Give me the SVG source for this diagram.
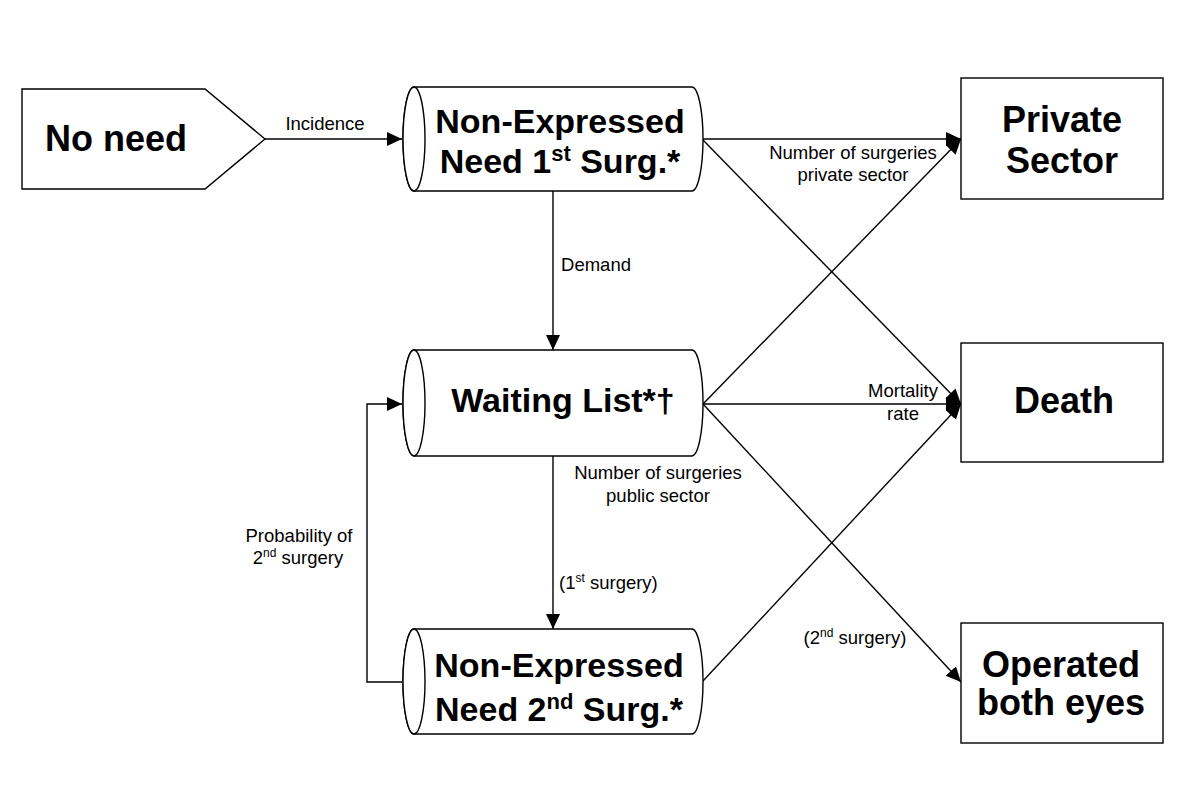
<svg xmlns="http://www.w3.org/2000/svg" width="1200" height="791" viewBox="0 0 1200 791">
<style>
.shape{fill:#fff;stroke:#000;stroke-width:1.4}
.big{font-family:"Liberation Sans",Arial,sans-serif;font-weight:bold;font-size:34px;fill:#000;text-anchor:middle}
.box{font-size:36px}
.lbl{font-family:"Liberation Sans",Arial,sans-serif;font-size:18.5px;fill:#000;text-anchor:middle}
.ln{fill:none;stroke:#000;stroke-width:1.4}
</style>
<defs>
<marker id="arr" markerUnits="userSpaceOnUse" markerWidth="16" markerHeight="16" refX="15" refY="7" orient="auto">
<path d="M0,0 L15,7 L0,14 Z" fill="#000"/>
</marker>
</defs>
<rect width="1200" height="791" fill="#fff"/>

<g id="connectors">
<line class="ln" x1="265" y1="139" x2="402" y2="139" marker-end="url(#arr)"/>
<line class="ln" x1="553" y1="191" x2="553" y2="350" marker-end="url(#arr)"/>
<line class="ln" x1="553" y1="456" x2="553" y2="629" marker-end="url(#arr)"/>
<polyline class="ln" points="402,682 367,682 367,404 402,404" marker-end="url(#arr)"/>
<line class="ln" x1="702" y1="139" x2="961" y2="139" marker-end="url(#arr)"/>
<line class="ln" x1="702" y1="139" x2="961" y2="404" marker-end="url(#arr)"/>
<line class="ln" x1="703" y1="404" x2="961" y2="139" marker-end="url(#arr)"/>
<line class="ln" x1="703" y1="404" x2="961" y2="404" marker-end="url(#arr)"/>
<line class="ln" x1="703" y1="404" x2="961" y2="682" marker-end="url(#arr)"/>
<line class="ln" x1="703" y1="681" x2="961" y2="404" marker-end="url(#arr)"/>
<text class="lbl" x="325" y="130">Incidence</text>
<text class="lbl" x="596" y="271">Demand</text>
<text class="lbl" x="853" y="159">Number of surgeries</text>
<text class="lbl" x="853" y="181">private sector</text>
<text class="lbl" x="903" y="397">Mortality</text>
<text class="lbl" x="903" y="420">rate</text>
<text class="lbl" x="658" y="479">Number of surgeries</text>
<text class="lbl" x="658" y="502">public sector</text>
<text class="lbl" x="559" y="589" style="text-anchor:start">(1<tspan font-size="12" dy="-7">st</tspan><tspan dy="7"> surgery)</tspan></text>
<text class="lbl" x="855" y="644">(2<tspan font-size="12" dy="-7">nd</tspan><tspan dy="7"> surgery)</tspan></text>
<text class="lbl" x="299" y="542">Probability of</text>
<text class="lbl" x="298" y="564">2<tspan font-size="12" dy="-7">nd</tspan><tspan dy="7"> surgery</tspan></text>
</g>

<g id="no-need">
<path class="shape" d="M22,89 L205,89 L265,139 L205,189 L22,189 Z"/>
<text class="big box" x="116" y="151">No need</text>
</g>

<g id="non-expressed-1">
<path class="shape" d="M414,87 L692,87 A11,52 0 0 1 692,191 L414,191 A11,52 0 0 1 414,87 Z"/>
<ellipse class="shape" cx="414" cy="139" rx="11" ry="52"/>
<text class="big" x="560" y="133">Non-Expressed</text>
<text class="big" x="560" y="173">Need 1<tspan font-size="22" dy="-12">st</tspan><tspan dy="12"> Surg.*</tspan></text>
</g>

<g id="waiting-list">
<path class="shape" d="M414,350 L692,350 A11,53 0 0 1 692,456 L414,456 A11,53 0 0 1 414,350 Z"/>
<ellipse class="shape" cx="414" cy="403" rx="11" ry="53"/>
<text class="big" x="563" y="412">Waiting List*†</text>
</g>

<g id="non-expressed-2">
<path class="shape" d="M414,629 L692,629 A11,52.5 0 0 1 692,734 L414,734 A11,52.5 0 0 1 414,629 Z"/>
<ellipse class="shape" cx="414" cy="681.5" rx="11" ry="52.5"/>
<text class="big" x="559" y="677">Non-Expressed</text>
<text class="big" x="559" y="721">Need 2<tspan font-size="22" dy="-12">nd</tspan><tspan dy="12"> Surg.*</tspan></text>
</g>

<g id="private-sector">
<rect class="shape" x="961" y="78" width="202" height="121"/>
<text class="big box" x="1062" y="132">Private</text>
<text class="big box" x="1062" y="173">Sector</text>
</g>

<g id="death">
<rect class="shape" x="961" y="343" width="202" height="119"/>
<text class="big box" x="1064" y="413">Death</text>
</g>

<g id="operated-both-eyes">
<rect class="shape" x="961" y="623" width="202" height="120"/>
<text class="big box" x="1061" y="677">Operated</text>
<text class="big box" x="1061" y="715">both eyes</text>
</g>
</svg>
